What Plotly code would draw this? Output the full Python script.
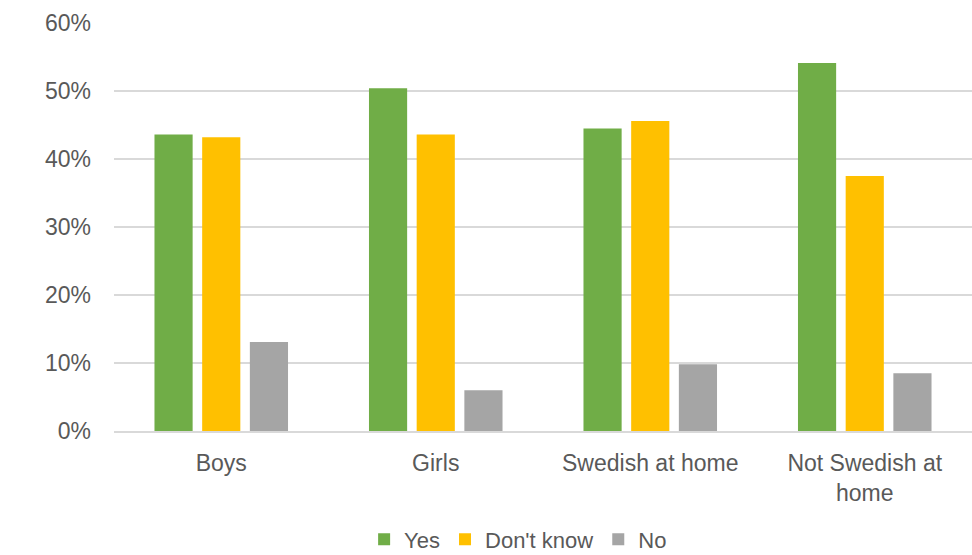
import plotly.graph_objects as go

categories = ["Boys", "Girls", "Swedish at home", "Not Swedish at<br>home"]
yes_vals = [0.436, 0.504, 0.445, 0.541]
dontknow_vals = [0.432, 0.436, 0.456, 0.375]
no_vals = [0.131, 0.060, 0.098, 0.085]
series_names = ["Yes", "Don't know", "No"]
series_colors = ["#70AD47", "#FFC000", "#A5A5A5"]

fig = go.Figure()
for name, vals, col in zip(series_names, [yes_vals, dontknow_vals, no_vals], series_colors):
    fig.add_trace(go.Bar(x=categories, y=vals, name=name,
                         marker=dict(color=col, line=dict(width=0))))

font_family = "Liberation Sans, Arial, sans-serif"
fig.update_layout(
    width=972, height=555,
    margin=dict(l=114, r=0, t=23, b=124, autoexpand=False),
    paper_bgcolor="white", plot_bgcolor="white",
    barmode="group", bargap=0.333, bargroupgap=0.2,
    font=dict(family=font_family, size=23, color="#595959"),
    showlegend=True,
    legend=dict(orientation="h", x=0.471, xanchor="center", y=-0.266, yanchor="middle",
                font=dict(size=22, color="#595959"), itemwidth=30, tracegroupgap=0),
    xaxis=dict(showgrid=False, showline=True, linecolor="#D9D9D9", linewidth=1.5,
               automargin=False,
               ticks="", tickfont=dict(size=23, color="#595959"), ticklabelstandoff=11),
    yaxis=dict(range=[0, 0.6], tickvals=[0, 0.1, 0.2, 0.3, 0.4, 0.5, 0.6],
               automargin=False,
               tickformat=".0%", showgrid=True, gridcolor="#D9D9D9", gridwidth=1.5,
               zeroline=False, showline=False, ticks="",
               tickfont=dict(size=23, color="#595959"), ticklabelstandoff=22),
)

fig.write_html("out.html")
